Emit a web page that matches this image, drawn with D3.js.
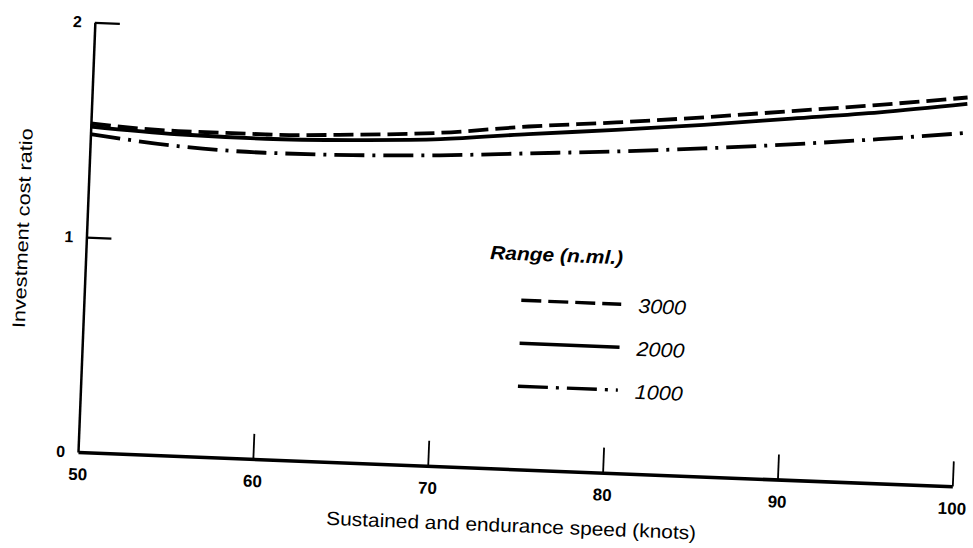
<!DOCTYPE html>
<html>
<head>
<meta charset="utf-8">
<script src="https://cdn.jsdelivr.net/npm/d3@7"></script>
<style>
  html, body { margin: 0; padding: 0; background: #fff; }
  svg { display: block; }
  text { fill: #000; font-family: "Liberation Sans", Arial, sans-serif; }
</style>
</head>
<body>
<svg id="chart" width="973" height="548"></svg>
<script>
// ---- data ----
const speeds = [50, 55, 60, 65, 70, 75, 80, 85, 90, 95, 100];
const range3000 = [1.53, 1.51, 1.51, 1.525, 1.55, 1.595, 1.63, 1.67, 1.715, 1.76, 1.81];
const range2000 = [1.515, 1.495, 1.49, 1.50, 1.52, 1.56, 1.595, 1.635, 1.68, 1.725, 1.78];
const range1000 = [1.48, 1.44, 1.425, 1.43, 1.445, 1.47, 1.495, 1.525, 1.56, 1.60, 1.645];
const seriesNames = ["3000", "2000", "1000"];
const xTickValues = [50, 60, 70, 80, 90, 100];
const yTickValues = [0, 1, 2];
const xTitle = "Sustained and endurance speed (knots)";
const yTitle = "Investment cost ratio";
const legendTitle = "Range (n.ml.)";

const series = [
  { name: seriesNames[0], values: range3000, dash: "20,7" },
  { name: seriesNames[1], values: range2000, dash: null },
  { name: seriesNames[2], values: range1000, dash: "30,8,3,8" }
];

const svg = d3.select("#chart");
const W = 875, H = 430;
// scanned page is slightly rotated clockwise
const g = svg.append("g").attr("transform", "translate(78,452) rotate(2.25)");

const x = d3.scaleLinear().domain([50, 100]).range([0, W]);
const y = d3.scaleLinear().domain([0, 2]).range([0, -H]);

// x axis
const xAxis = d3.axisBottom(x).tickValues(xTickValues).tickSize(-25).tickSizeOuter(0).tickPadding(16)
  .tickFormat(d3.format("d"));
const gx = g.append("g").call(xAxis);
gx.select(".domain").attr("stroke", "#000").attr("stroke-width", 3.5);
gx.selectAll(".tick line").attr("stroke", "#000").attr("stroke-width", 1.8)
  .filter(d => d === 50).remove();
gx.selectAll(".tick text").attr("font-size", 17).attr("font-weight", "bold")
  .attr("font-family", "Liberation Sans, Arial, sans-serif");

// y axis
const yAxis = d3.axisLeft(y).tickValues(yTickValues).tickSize(-25).tickSizeOuter(0).tickPadding(13)
  .tickFormat(d3.format("d"));
const gy = g.append("g").call(yAxis);
gy.select(".domain").attr("stroke", "#000").attr("stroke-width", 2.5);
gy.selectAll(".tick line").attr("stroke", "#000").attr("stroke-width", 2.2)
  .filter(d => d === 0).remove();
gy.selectAll(".tick text").attr("font-size", 16).attr("font-weight", "bold")
  .attr("font-family", "Liberation Sans, Arial, sans-serif");

// curves
const line = d3.line()
  .x((d, i) => x(speeds[i]))
  .y(d => y(d))
  .curve(d3.curveMonotoneX);

series.forEach(s => {
  g.append("path")
    .datum(s.values)
    .attr("d", line)
    .attr("fill", "none")
    .attr("stroke", "#000")
    .attr("stroke-width", 3.8)
    .attr("stroke-dasharray", s.dash);
});

// axis titles
g.append("text")
  .attr("x", x(74.9)).attr("y", 63)
  .attr("text-anchor", "middle")
  .attr("font-size", 19)
  .attr("textLength", 370).attr("lengthAdjust", "spacingAndGlyphs")
  .text(xTitle);

g.append("text")
  .attr("transform", `translate(-58,${y(1.03)}) rotate(-90)`)
  .attr("text-anchor", "middle")
  .attr("font-size", 18)
  .attr("textLength", 200).attr("lengthAdjust", "spacingAndGlyphs")
  .text(yTitle);

// legend
const lg = g.append("g");
lg.append("text")
  .attr("x", 404).attr("y", -209)
  .attr("font-size", 19).attr("font-style", "italic").attr("font-weight", "bold")
  .attr("textLength", 133).attr("lengthAdjust", "spacingAndGlyphs")
  .text(legendTitle);

series.forEach((s, i) => {
  const ly = -169 + i * 43;
  lg.append("line")
    .attr("x1", 437).attr("x2", 537)
    .attr("y1", ly).attr("y2", ly)
    .attr("stroke", "#000").attr("stroke-width", 3.4)
    .attr("stroke-dasharray", s.dash);
  lg.append("text")
    .attr("x", 554).attr("y", ly + 8)
    .attr("font-size", 20).attr("font-style", "italic")
    .attr("textLength", 48).attr("lengthAdjust", "spacingAndGlyphs")
    .text(s.name);
});
</script>
</body>
</html>
